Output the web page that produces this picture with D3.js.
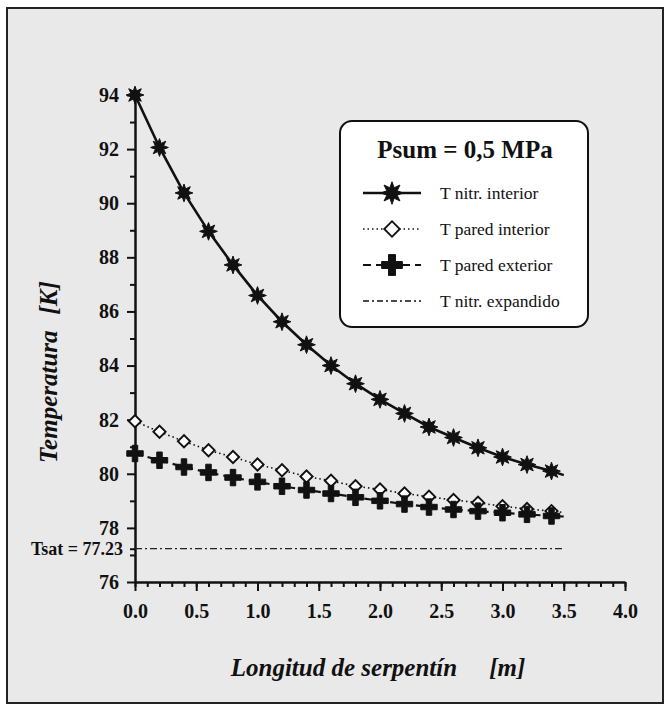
<!DOCTYPE html>
<html>
<head>
<meta charset="utf-8">
<script src="https://cdn.jsdelivr.net/npm/d3@7"></script>
<style>
  body { margin: 0; background: #fff; }
  svg { display: block; font-family: "Liberation Serif", "Times New Roman", serif; }
</style>
</head>
<body>
<svg id="chart" width="668" height="705"></svg>
<script>
// longitud de serpentín [m] - markers every 0.2 m, curves run to 3.5 m
var longitud = [0, 0.2, 0.4, 0.6, 0.8, 1.0, 1.2, 1.4, 1.6, 1.8, 2.0, 2.2, 2.4, 2.6, 2.8, 3.0, 3.2, 3.4, 3.5];

// temperatures [K]
var tNitrInterior = [94.0, 92.06, 90.38, 88.96, 87.72, 86.59, 85.62, 84.77, 84.0, 83.33, 82.75, 82.23, 81.73, 81.34, 80.96, 80.62, 80.34, 80.1, 79.95];
var tParedInterior = [81.94, 81.55, 81.2, 80.87, 80.62, 80.34, 80.13, 79.9, 79.74, 79.54, 79.42, 79.27, 79.15, 79.03, 78.93, 78.8, 78.7, 78.62, 78.57];
var tParedExterior = [80.75, 80.5, 80.25, 80.05, 79.86, 79.7, 79.54, 79.4, 79.27, 79.13, 79.0, 78.88, 78.77, 78.68, 78.62, 78.56, 78.5, 78.44, 78.42];
var tSat = 77.23;
var tSatRange = [0, 3.5];

var xTicks = [0, 0.5, 1.0, 1.5, 2.0, 2.5, 3.0, 3.5, 4.0];
var yTicks = [76, 78, 80, 82, 84, 86, 88, 90, 92, 94];

var legendLabels = ["T nitr. interior", "T pared interior", "T pared exterior", "T nitr. expandido"];
var legendTitle = "Psum = 0,5 MPa";

var svg = d3.select("#chart");

// scanned page frame
svg.append("rect")
  .attr("x", 7).attr("y", 8).attr("width", 656).attr("height", 695)
  .attr("fill", "#e9e9e9").attr("stroke", "#222").attr("stroke-width", 2);

var x = d3.scaleLinear().domain([0, 4]).range([135, 625]);
var y = d3.scaleLinear().domain([76, 94]).range([582, 95]);

// minor ticks first, majors on top
svg.append("g")
  .attr("transform", "translate(0,582)")
  .call(d3.axisBottom(x).tickValues(d3.range(0, 40.5, 1).map(function(d) { return d / 10; }))
    .tickSize(5).tickSizeOuter(0).tickFormat(""))
  .call(function(g) { g.select(".domain").remove(); });

svg.append("g")
  .attr("transform", "translate(135,0)")
  .call(d3.axisLeft(y).tickValues(d3.range(77, 94, 2).concat([tSat]))
    .tickSize(5).tickSizeOuter(0).tickFormat(""))
  .call(function(g) { g.select(".domain").remove(); });

var xAxis = svg.append("g")
  .attr("class", "axis")
  .attr("transform", "translate(0,582)")
  .call(d3.axisBottom(x).tickValues(xTicks).tickSize(9).tickSizeOuter(0).tickPadding(13)
    .tickFormat(d3.format(".1f")));

var yAxis = svg.append("g")
  .attr("class", "axis")
  .attr("transform", "translate(135,0)")
  .call(d3.axisLeft(y).tickValues(yTicks).tickSize(8).tickSizeOuter(0).tickPadding(8)
    .tickFormat(d3.format("d")));

svg.selectAll(".tick line").attr("stroke", "#111").attr("stroke-width", 2);
svg.selectAll(".axis .domain").attr("stroke", "#111").attr("stroke-width", 2.5);
svg.selectAll(".axis text")
  .attr("font-family", "Liberation Serif, serif")
  .attr("font-size", 20).attr("font-weight", "bold").attr("fill", "#111");

// Tsat label on the y axis
svg.append("text")
  .attr("x", 123).attr("y", y(tSat)).attr("dy", "0.35em")
  .attr("text-anchor", "end")
  .attr("font-size", 18).attr("font-weight", "bold").attr("fill", "#111")
  .text("Tsat = 77.23");

// axis titles
var yTitle = svg.append("text")
  .attr("transform", "translate(57,372) rotate(-90)")
  .attr("text-anchor", "middle")
  .attr("font-size", 25).attr("font-weight", "bold").attr("font-style", "italic").attr("fill", "#111");
yTitle.append("tspan").text("Temperatura");
yTitle.append("tspan").attr("dx", 16).text("[K]");

var xTitle = svg.append("text")
  .attr("x", 378).attr("y", 676)
  .attr("text-anchor", "middle")
  .attr("font-size", 25).attr("font-weight", "bold").attr("font-style", "italic").attr("fill", "#111");
xTitle.append("tspan").text("Longitud de serpentín");
xTitle.append("tspan").attr("dx", 32).text("[m]");

// custom 8-point burst marker
var burst = {
  draw: function(context, size) {
    var r = Math.sqrt(size) * 0.75, ri = r * 0.5;
    for (var i = 0; i < 16; i++) {
      var a = i * Math.PI / 8 - Math.PI / 2;
      var rr = i % 2 === 0 ? r : ri;
      if (i === 0) context.moveTo(rr * Math.cos(a), rr * Math.sin(a));
      else context.lineTo(rr * Math.cos(a), rr * Math.sin(a));
    }
    context.closePath();
  }
};

var series = [
  { values: tNitrInterior, dash: null, width: 2.6, symbol: burst, size: 140, fill: "#111", sw: 1 },
  { values: tParedInterior, dash: "1.5,3", width: 1.6, symbol: d3.symbolSquare, size: 75, fill: "#fff", sw: 1.9, rotate: 45 },
  { values: tParedExterior, dash: "8,5", width: 2.2, symbol: d3.symbolCross, size: 150, fill: "#111", sw: 1 }
];

var line = d3.line()
  .x(function(d) { return x(d[0]); })
  .y(function(d) { return y(d[1]); });

// Tsat line
svg.append("path")
  .attr("d", line(tSatRange.map(function(d) { return [d, tSat]; })))
  .attr("fill", "none").attr("stroke", "#222").attr("stroke-width", 1.3)
  .attr("stroke-dasharray", "7,3,2,3");

series.forEach(function(s) {
  var pts = longitud.map(function(d, i) { return [d, s.values[i]]; });
  svg.append("path")
    .attr("d", line(pts))
    .attr("fill", "none").attr("stroke", "#111").attr("stroke-width", s.width)
    .attr("stroke-dasharray", s.dash);
  // no marker on the 3.5 m end point
  svg.append("g").selectAll("path")
    .data(pts.slice(0, pts.length - 1))
    .join("path")
    .attr("transform", function(d) { return "translate(" + x(d[0]) + "," + y(d[1]) + ")" + (s.rotate ? " rotate(" + s.rotate + ")" : ""); })
    .attr("d", d3.symbol().type(s.symbol).size(s.size))
    .attr("fill", s.fill).attr("stroke", "#111").attr("stroke-width", s.sw);
});

// legend
var lg = svg.append("g");
lg.append("rect")
  .attr("x", 340).attr("y", 121).attr("width", 248).attr("height", 206).attr("rx", 12)
  .attr("fill", "#fff").attr("stroke", "#111").attr("stroke-width", 2);
lg.append("text")
  .attr("x", 465).attr("y", 158).attr("text-anchor", "middle")
  .attr("font-size", 25).attr("font-weight", "bold").attr("fill", "#111")
  .text(legendTitle);

var legendStyles = series.concat([{ dash: "6,3,2,3", width: 1.3, symbol: null }]);
legendLabels.forEach(function(label, i) {
  var ly = 193 + i * 36;
  var st = legendStyles[i];
  lg.append("line")
    .attr("x1", 363).attr("x2", 421).attr("y1", ly).attr("y2", ly)
    .attr("stroke", "#111").attr("stroke-width", st.width).attr("stroke-dasharray", st.dash);
  if (st.symbol) {
    lg.append("path")
      .attr("transform", "translate(392," + ly + ")" + (st.rotate ? " rotate(" + st.rotate + ")" : ""))
      .attr("d", d3.symbol().type(st.symbol).size(st.size * 1.6))
      .attr("fill", st.fill).attr("stroke", "#111").attr("stroke-width", st.sw);
  }
  lg.append("text")
    .attr("x", 440).attr("y", ly).attr("dy", "0.35em")
    .attr("font-size", 17.5).attr("fill", "#111")
    .text(label);
});
</script>
</body>
</html>
